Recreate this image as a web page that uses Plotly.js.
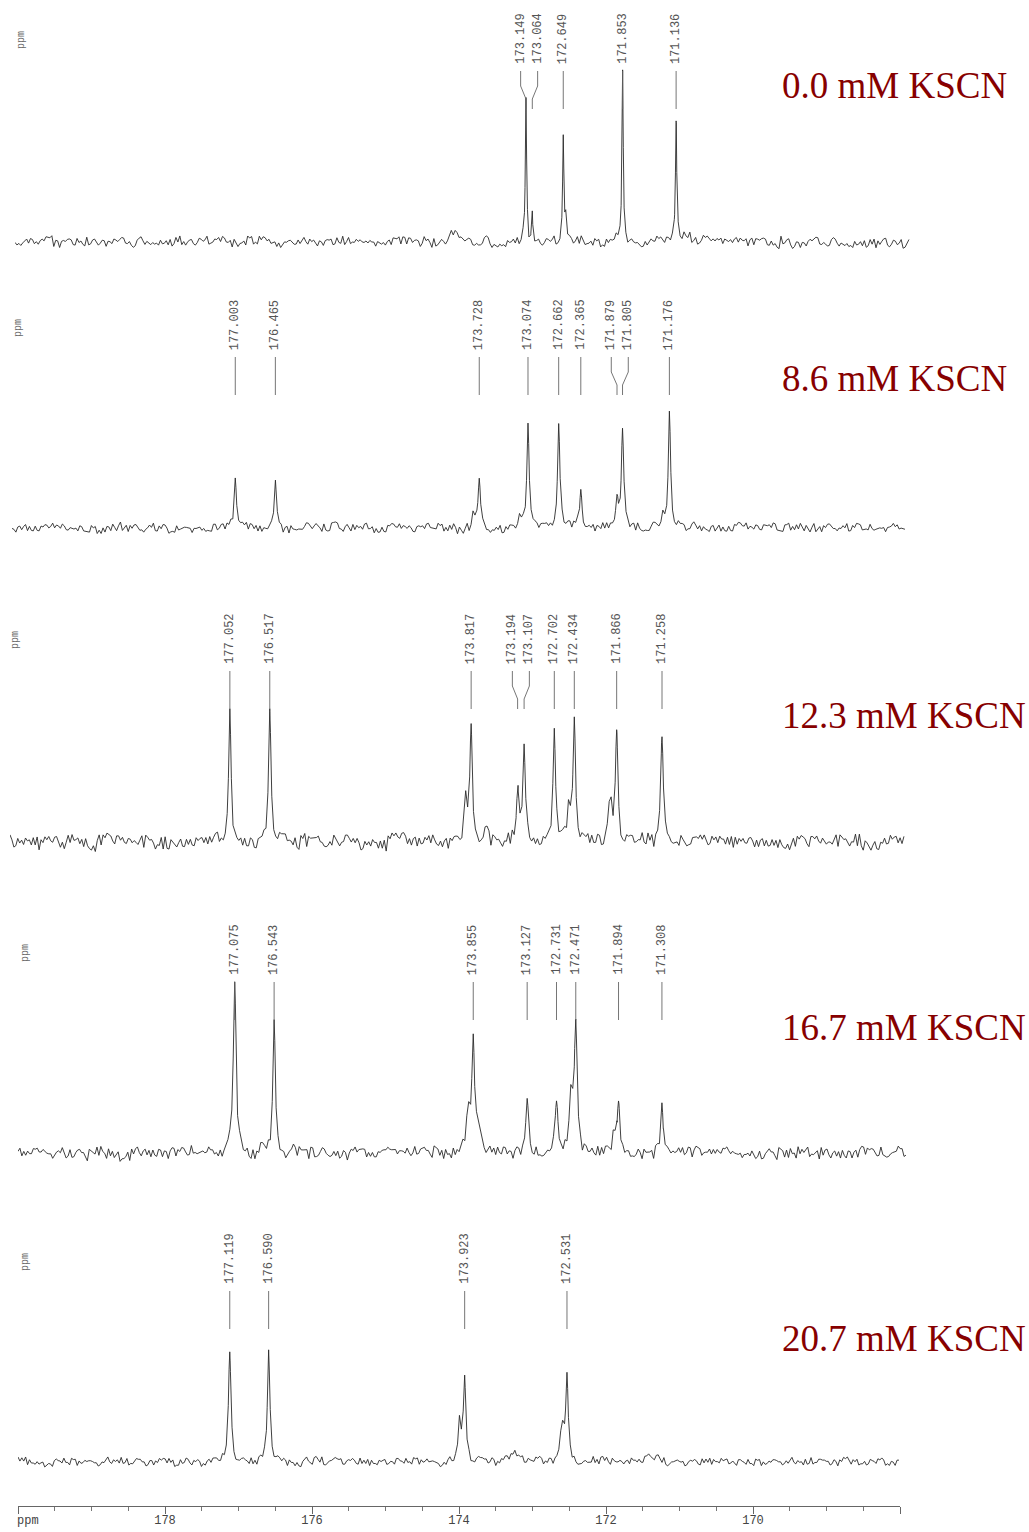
<!DOCTYPE html>
<html>
<head>
<meta charset="utf-8">
<script src="https://cdn.plot.ly/plotly-3.0.1.min.js"></script>
<style>html,body{margin:0;padding:0;background:#fff}</style>
</head>
<body>
<div id="chart" style="width:1029px;height:1532px"></div>
<script>
// 13C carbonyl region, stacked by KSCN concentration (mM)
const concentrations = ['0.0', '8.6', '12.3', '16.7', '20.7'];

// Labelled resonances (ppm) with peak heights (baseline = 0)
const labels1 = [173.149, 173.064, 172.649, 171.853, 171.136];
const heights1 = [144, 29, 105, 172, 119];
const labels2 = [177.003, 176.465, 173.728, 173.074, 172.662, 172.365, 171.879, 171.805, 171.176];
const heights2 = [50, 47, 48, 104, 104, 38, 28, 98, 116];
const labels3 = [177.052, 176.517, 173.817, 173.194, 173.107, 172.702, 172.434, 171.866, 171.258];
const heights3 = [133, 133, 114, 49, 95, 112, 120, 109, 105];
const labels4 = [177.075, 176.543, 173.855, 173.127, 172.731, 172.471, 171.894, 171.308];
const heights4 = [171, 133, 111, 54, 50, 126, 48, 50];
const labels5 = [177.119, 176.590, 173.923, 172.531];
const heights5 = [110, 112, 82, 85];

// Unlabelled shoulders and small bumps (ppm, height)
const shoulders1 = [172.61, 174.12, 171.00];
const shoulderHeights1 = [25, 9, 8];
const shoulders2 = [173.80, 173.18, 171.26];
const shoulderHeights2 = [20, 15, 12];
const shoulders3 = [173.89, 173.62, 172.505, 171.955];
const shoulderHeights3 = [40, 20, 40, 42];
const shoulders4 = [173.925, 173.78, 172.535, 171.95];
const shoulderHeights4 = [45, 22, 50, 20];
const shoulders5 = [173.99, 172.60, 173.21, 171.37];
const shoulderHeights5 = [42, 42, 8, 8];

// Baseline noise amplitude of each trace
const noiseLevel = [6, 5.5, 8.5, 7.5, 4.8];

// Baseline noise record (normalised)
const baselineNoise = [0.3,-0.5,0.8,-0.2,-0.9,0.4,0.1,-0.6,0.7,-0.3,0.5,-0.8,0.2,0.9,-0.4,-0.1,0.6,-0.7,0.3,-0.2,
0.8,-0.5,-0.9,0.1,0.4,-0.3,0.7,0.2,-0.6,0.5,-0.1,-0.8,0.6,0.3,-0.4,0.9,-0.2,-0.7,0.1,0.5,
-0.5,0.2,0.8,-0.9,0.4,-0.1,0.3,-0.6,0.7,-0.4,0.1,0.6,-0.3,-0.8,0.5,0.2,-0.1,0.9,-0.6,0.3,
-0.5,0.4,-0.2,0.7,-0.9,0.1,0.6,-0.4,0.2,-0.7,0.8,-0.3,0.5,-0.1,-0.6,0.4,0.9,-0.5,0.2,-0.8,
0.3,0.6,-0.2,-0.4,0.7,-0.9,0.1,0.5,-0.3,0.8,-0.6,0.2,0.4,-0.7,0.3,-0.1,0.6,-0.5,0.9,-0.2,
-0.8,0.4,0.1,-0.3,0.7,-0.6,0.5,0.2,-0.9,0.3,-0.4,0.8,-0.1,0.6,-0.7,0.2,0.4,-0.5,0.9,-0.3,
0.1,-0.8,0.5,0.3,-0.6,0.7,-0.2,-0.4,0.6,-0.9,0.2,0.8,-0.5,0.1,-0.3,0.4,0.7,-0.7,0.3,-0.1,
0.5,-0.8,0.9,-0.4,0.2,0.6,-0.6,0.1,-0.2,0.8,-0.5,0.3,-0.9,0.4,0.7,-0.3,0.2,-0.6,0.5,-0.1,
0.9,-0.7,0.3,0.1,-0.4,0.6,-0.8,0.2,0.5,-0.2,0.8,-0.5,-0.1,0.4,-0.6,0.3,0.7,-0.2,-0.5];

// Axis tick labels
const tickValues = [180, 178, 176, 174, 172, 170, 168];
const tickLabels = ['', '178', '176', '174', '172', '170', ''];

const labels = [labels1, labels2, labels3, labels4, labels5];
const heights = [heights1, heights2, heights3, heights4, heights5];
const shoulders = [shoulders1, shoulders2, shoulders3, shoulders4, shoulders5];
const shoulderHeights = [shoulderHeights1, shoulderHeights2, shoulderHeights3, shoulderHeights4, shoulderHeights5];

// ---- layout geometry (pixels) ----
const W = 1029, H = 1532;
const spanPx = [[15, 910], [12, 906], [10, 905], [18, 907], [18, 900]];
const basePx = [242, 528, 842, 1153, 1462];
const axisPx = 1506;
const halfWidth = [0.010, 0.018, 0.020, 0.022, 0.020];
const noiseStride = [3, 7, 11, 13, 17];
const noiseOffset = [0, 23, 57, 91, 131];
const ppmLeft = 180, ppmRight = 168;

const LABEL_BOTTOM = 176, LEAD_TOP = 171, BEND_TOP = 156, BEND_BOT = 143, LEAD_BOT = 133;

function lorentz(x, c, w) { const d = (x - c) / w; return 1 / (1 + d * d); }

const traces = [];
const annotations = [];
const shapes = [];
const layout = {
  width: W, height: H,
  margin: {l: 0, r: 0, t: 0, b: 0},
  paper_bgcolor: '#fff', plot_bgcolor: 'rgba(0,0,0,0)',
  showlegend: false,
  hovermode: false
};

for (let k = 0; k < 5; k++) {
  const id = k === 0 ? '' : String(k + 1);
  const B = basePx[k];
  const pageTop = B - 240;
  const pageBot = k === 4 ? axisPx : B + 25;

  layout['xaxis' + id] = {
    domain: [spanPx[k][0] / W, spanPx[k][1] / W],
    range: [ppmLeft, ppmRight],
    anchor: 'y' + id,
    visible: false,
    fixedrange: true
  };
  layout['yaxis' + id] = {
    domain: [1 - pageBot / H, 1 - pageTop / H],
    range: [-(pageBot - B), 240],
    anchor: 'x' + id,
    visible: false,
    fixedrange: true
  };

  // all resonances for the line shape
  const centers = labels[k].concat(shoulders[k]);
  const amps = heights[k].concat(shoulderHeights[k]);
  const w = halfWidth[k];

  // baseline noise at grid index i: fast record plus a slower drift from the same record
  const L = baselineNoise.length;
  const noiseAt = i => {
    const fast = baselineNoise[(i * noiseStride[k] + noiseOffset[k]) % L];
    const slow = baselineNoise[(Math.floor(i / 5) * 5 + noiseOffset[k] + 11) % L];
    return (fast * 0.85 + slow * 0.4) * noiseLevel[k];
  };

  // sampling grid: regular steps plus points through each resonance
  const step = 0.026;
  const pts = [];
  for (let i = 0, x = ppmLeft; x >= ppmRight - 1e-9; i++, x = ppmLeft - i * step) {
    pts.push({x: x, n: noiseAt(i)});
  }
  const gridN = x => noiseAt(Math.round((ppmLeft - x) / step));
  labels[k].forEach(c => {
    pts.push({x: c, n: 0});
    [-0.02, -0.009, 0.009, 0.02].forEach(d => pts.push({x: c + d, n: gridN(c + d) * 0.5}));
  });
  pts.sort((a, b) => b.x - a.x);

  const xs = [], ys = [];
  pts.forEach(p => {
    let y = p.n;
    for (let j = 0; j < centers.length; j++) {
      const ww = j < labels[k].length ? w : (amps[j] < 12 ? 0.08 : w * 1.2);
      y += amps[j] * lorentz(p.x, centers[j], ww);
    }
    xs.push(p.x); ys.push(y);
  });

  traces.push({
    type: 'scatter', mode: 'lines', x: xs, y: ys,
    xaxis: 'x' + id, yaxis: 'y' + id,
    line: {color: '#2a2a2a', width: 0.9},
    hoverinfo: 'skip'
  });

  // label positions: spread labels of close pairs apart
  const pxPerPpm = (spanPx[k][1] - spanPx[k][0]) / (ppmLeft - ppmRight);
  const lx = labels[k].slice();
  for (let j = 0; j < lx.length - 1; j++) {
    const gap = (labels[k][j] - labels[k][j + 1]) * pxPerPpm;
    if (gap < 12) {
      const mid = (labels[k][j] + labels[k][j + 1]) / 2;
      lx[j] = mid + 8.5 / pxPerPpm;
      lx[j + 1] = mid - 8.5 / pxPerPpm;
    }
  }

  labels[k].forEach((v, j) => {
    annotations.push({
      xref: 'x' + id, yref: 'y' + id, x: lx[j], y: LABEL_BOTTOM,
      text: v.toFixed(3), textangle: -90, showarrow: false,
      xanchor: 'center', yanchor: 'bottom',
      font: {family: 'Liberation Mono, DejaVu Sans Mono, monospace', size: 12, color: '#555'}
    });
    let path;
    if (Math.abs(lx[j] - v) > 1e-6) {
      path = `M ${lx[j]},${LEAD_TOP} L ${lx[j]},${BEND_TOP} L ${v},${BEND_BOT} L ${v},${LEAD_BOT}`;
    } else {
      path = `M ${v},${LEAD_TOP} L ${v},${LEAD_BOT}`;
    }
    shapes.push({type: 'path', xref: 'x' + id, yref: 'y' + id, path: path,
      line: {color: '#666', width: 0.9}});
  });

  // concentration label
  annotations.push({
    xref: 'paper', yref: 'y' + id, x: 780 / W, y: B - [86, 378, 715, 1027, 1338][k],
    text: concentrations[k] + ' mM KSCN', showarrow: false,
    xanchor: 'left', yanchor: 'middle',
    font: {family: 'Liberation Serif, Times New Roman, serif', size: 37, color: '#870000'}
  });

  // per-trace unit label
  annotations.push({
    xref: 'paper', yref: 'y' + id, x: [22, 18, 15, 25, 25][k] / W,
    y: B - [40, 328, 640, 953, 1262][k],
    text: 'ppm', textangle: -90, showarrow: false,
    xanchor: 'center', yanchor: 'middle',
    font: {family: 'Liberation Mono, DejaVu Sans Mono, monospace', size: 10, color: '#666'}
  });
}

// bottom chemical-shift axis on the last trace
Object.assign(layout.xaxis5, {
  visible: true,
  showline: true, linecolor: '#666', linewidth: 1,
  showgrid: false, zeroline: false,
  ticks: 'outside', ticklen: 7, tickwidth: 1, tickcolor: '#666',
  tickmode: 'array', tickvals: tickValues, ticktext: tickLabels,
  ticklabelstandoff: -4,
  tickfont: {family: 'Liberation Mono, DejaVu Sans Mono, monospace', size: 12, color: '#444'},
  minor: {tickmode: 'linear', tick0: 168, dtick: 0.5, ticks: 'outside', ticklen: 4, tickcolor: '#777', showgrid: false}
});

annotations.push({
  xref: 'paper', yref: 'paper', x: 15 / W, y: 1 - 1521 / H,
  text: 'ppm', showarrow: false, xanchor: 'left', yanchor: 'middle',
  font: {family: 'Liberation Mono, DejaVu Sans Mono, monospace', size: 12, color: '#444'}
});

layout.annotations = annotations;
layout.shapes = shapes;

Plotly.newPlot('chart', traces, layout, {staticPlot: true, displayModeBar: false});
</script>
</body>
</html>
